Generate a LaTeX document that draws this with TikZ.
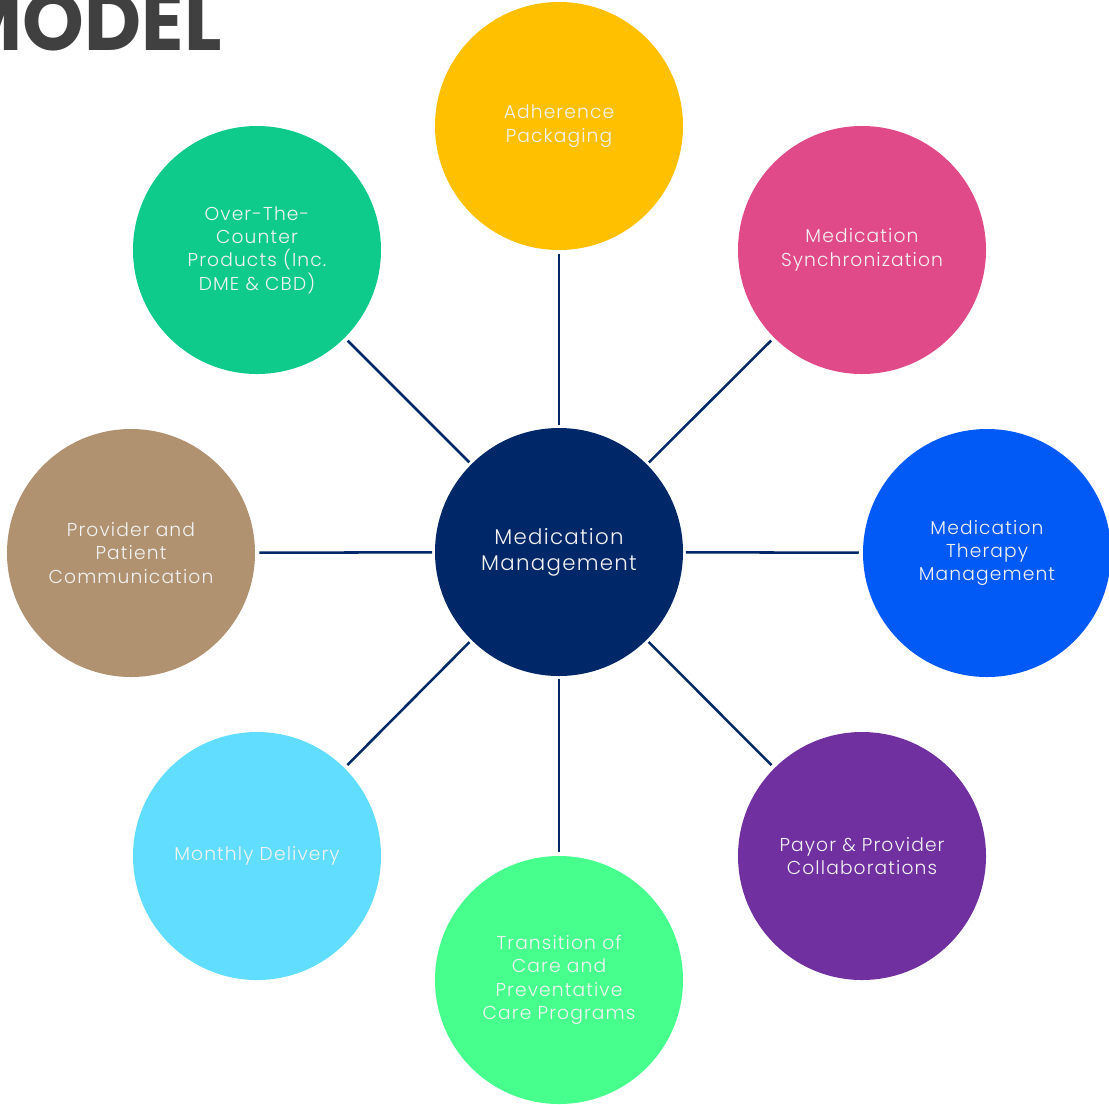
\documentclass[tikz,border=0pt]{standalone}
\usepackage{fontspec}
\setmainfont{Poppins}[UprightFont=* Light, BoldFont=* Bold]
\newfontfamily\bubblefont{Poppins}[UprightFont=* Light, LetterSpace=6]
\definecolor{navy}{HTML}{002868}
\definecolor{cAdh}{HTML}{FFC000}
\definecolor{cSync}{HTML}{E14A89}
\definecolor{cMTM}{HTML}{015AF6}
\definecolor{cPay}{HTML}{7030A0}
\definecolor{cTran}{HTML}{47FF8D}
\definecolor{cMon}{HTML}{61DEFF}
\definecolor{cProv}{HTML}{B09270}
\definecolor{cOTC}{HTML}{0ECB8C}
\definecolor{txt}{HTML}{F2F2F2}
\definecolor{title}{HTML}{404040}
\begin{document}
\begin{tikzpicture}[x=0.75pt,y=-0.75pt,
  bubble/.style={circle,minimum size=248*0.75pt,inner sep=0pt,text=txt,align=center,
     font=\bubblefont\fontsize{14}{17.5}\selectfont},
  hub/.style={bubble,font=\bubblefont\fontsize{16}{19.5}\selectfont},
  link/.style={draw=navy,line width=1.9pt,shorten <=2pt,shorten >=3pt}]
\useasboundingbox (0,0) rectangle (1109,1104);
\node[anchor=base east,text=title,font=\fontsize{62}{62}\bfseries,inner sep=0pt] (ttl) at (222,50) {\scalebox{0.95}[1]{MODEL}};
\node[hub,fill=navy] (c) at (559,552) {Medication\\Management};
\node[bubble,fill=cAdh] (adh) at (559,126) {Adherence\\Packaging};
\node[bubble,fill=cSync] (sync) at (862,250) {Medication\\Synchronization};
\node[bubble,fill=cMTM] (mtm) at (987,553) {Medication\\Therapy\\Management};
\node[bubble,fill=cPay] (pay) at (862,856) {Payor \& Provider\\Collaborations};
\node[bubble,fill=cTran] (tran) at (559,980) {Transition of\\Care and\\Preventative\\Care Programs};
\node[bubble,fill=cMon] (mon) at (257,856) {Monthly Delivery};
\node[bubble,fill=cProv] (prov) at (131,553) {Provider and\\Patient\\Communication};
\node[bubble,fill=cOTC] (otc) at (257,250) {Over-The-\\Counter\\Products (Inc.\\DME \& CBD)};
\foreach \n in {adh,sync,mtm,pay,tran,mon,prov,otc}
  \draw[link] (c) -- (\n);
\end{tikzpicture}
\end{document}
